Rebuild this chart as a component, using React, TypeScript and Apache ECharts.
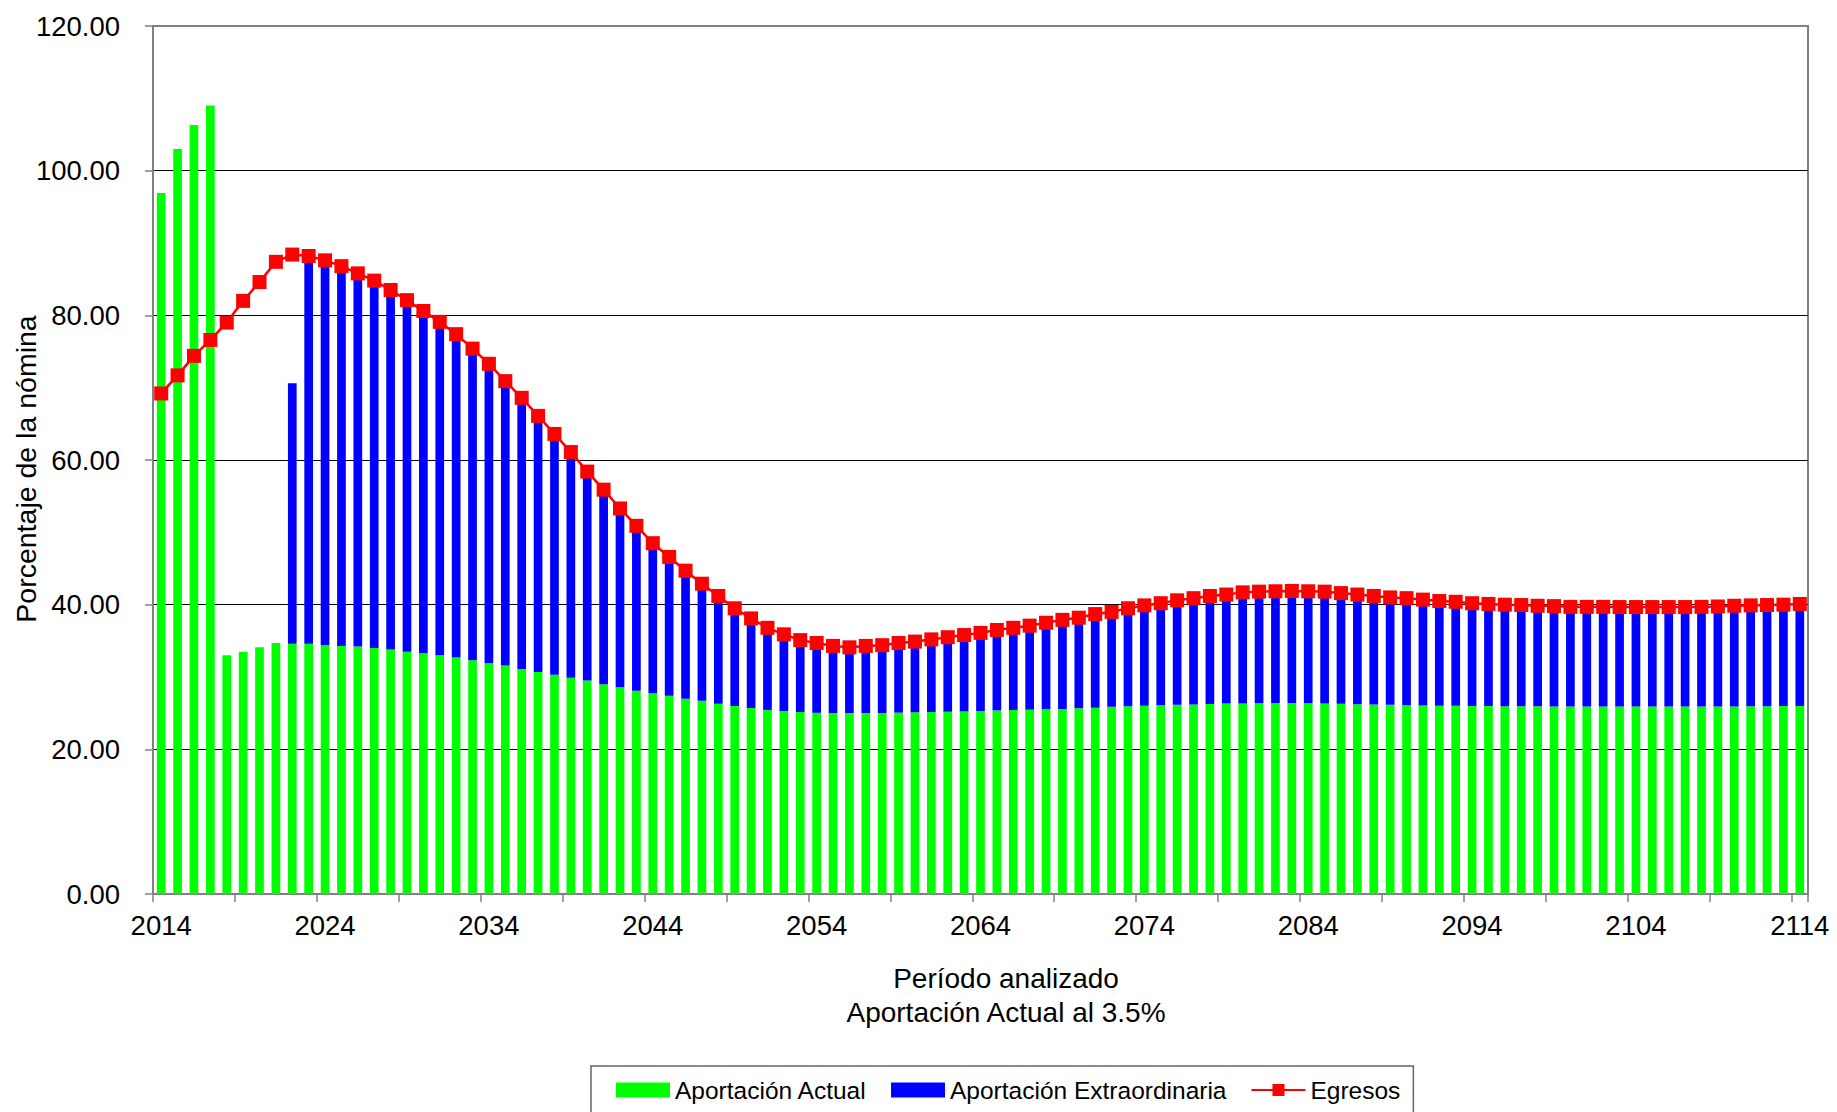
import React, { useEffect, useRef } from "react";
import * as echarts from "echarts";

const years: string[] = [];
for (let y = 2014; y <= 2114; y++) years.push(String(y));

const aportacionActual: number[] = [
  96.9, 103.0, 106.3, 109.0, 33.0, 33.5, 34.1, 34.7, 34.6, 34.6,
  34.4, 34.3, 34.2, 34.0, 33.8, 33.5, 33.3, 33.0, 32.7, 32.3,
  31.9, 31.6, 31.1, 30.7, 30.3, 29.9, 29.5, 29.0, 28.6, 28.1,
  27.75, 27.4, 27.0, 26.7, 26.3, 26.0, 25.7, 25.45, 25.3, 25.15,
  25.05, 25.0, 25.0, 25.0, 25.02, 25.07, 25.12, 25.16, 25.2, 25.25,
  25.3, 25.38, 25.44, 25.48, 25.53, 25.58, 25.67, 25.76, 25.88, 25.97,
  26.02, 26.1, 26.15, 26.2, 26.28, 26.33, 26.35, 26.38, 26.4, 26.4,
  26.38, 26.35, 26.3, 26.25, 26.2, 26.15, 26.1, 26.06, 26.04, 26.02,
  26.0, 26.0, 25.97, 25.96, 25.95, 25.93, 25.93, 25.93, 25.93, 25.93,
  25.93, 25.93, 25.93, 25.93, 25.93, 25.93, 25.93, 25.95, 25.97, 26.0,
  26.0,
];

const aportacionExtraordinaria: (number | null)[] = [
  null, null, null, null, null, null, null, null, 36.0, 53.6,
  53.2, 52.5, 51.6, 50.8, 49.7, 48.6, 47.3, 46.1, 44.7, 43.1,
  41.4, 39.3, 37.5, 35.4, 33.3, 31.2, 28.9, 26.9, 24.7, 22.8,
  20.75, 19.2, 17.7, 16.2, 14.9, 13.5, 12.4, 11.35, 10.6, 9.95,
  9.65, 9.3, 9.1, 9.3, 9.38, 9.63, 9.78, 10.04, 10.3, 10.55,
  10.8, 11.12, 11.36, 11.62, 11.97, 12.32, 12.53, 12.94, 13.12, 13.53,
  13.88, 14.1, 14.45, 14.7, 14.92, 15.07, 15.35, 15.42, 15.45, 15.5,
  15.47, 15.45, 15.3, 15.15, 15.0, 14.85, 14.8, 14.64, 14.46, 14.38,
  14.2, 14.1, 14.03, 13.99, 13.9, 13.87, 13.77, 13.77, 13.77, 13.74,
  13.74, 13.74, 13.74, 13.74, 13.77, 13.82, 13.92, 13.95, 13.98, 14.0,
  14.1,
];

const egresos: number[] = [
  69.2, 71.7, 74.4, 76.6, 79.0, 82.0, 84.6, 87.4, 88.4, 88.2,
  87.6, 86.8, 85.8, 84.8, 83.5, 82.1, 80.6, 79.1, 77.4, 75.4,
  73.3, 70.9, 68.6, 66.1, 63.6, 61.1, 58.4, 55.9, 53.3, 50.9,
  48.5, 46.6, 44.7, 42.9, 41.2, 39.5, 38.1, 36.8, 35.9, 35.1,
  34.7, 34.3, 34.1, 34.3, 34.4, 34.7, 34.9, 35.2, 35.5, 35.8,
  36.1, 36.5, 36.8, 37.1, 37.5, 37.9, 38.2, 38.7, 39.0, 39.5,
  39.9, 40.2, 40.6, 40.9, 41.2, 41.4, 41.7, 41.8, 41.85, 41.9,
  41.85, 41.8, 41.6, 41.4, 41.2, 41.0, 40.9, 40.7, 40.5, 40.4,
  40.2, 40.1, 40.0, 39.95, 39.85, 39.8, 39.7, 39.7, 39.7, 39.67,
  39.67, 39.67, 39.67, 39.67, 39.7, 39.75, 39.85, 39.9, 39.95, 40.0,
  40.1,
];

const seriesNames = ["Aportación Actual", "Aportación Extraordinaria", "Egresos"];
const yAxisTitle = "Porcentaje de la nómina";
const xAxisTitle = "Período analizado\nAportación Actual al 3.5%";

const FONT = "'Liberation Sans', Arial, sans-serif";

export default function App() {
  const ref = useRef<HTMLDivElement>(null);
  useEffect(() => {
    if (!ref.current) return;
    const chart = echarts.init(ref.current, null, { renderer: "svg" });
    chart.setOption({
      animation: false,
      backgroundColor: "#ffffff",
      grid: {
        left: 153,
        right: 29,
        top: 26,
        bottom: 218,
        show: true,
        borderColor: "#808080",
        borderWidth: 2,
        backgroundColor: "transparent",
      },
      legend: {
        data: [
          { name: seriesNames[0], icon: "rect" },
          { name: seriesNames[1], icon: "rect" },
          { name: seriesNames[2] },
        ],
        left: 591,
        top: 1066,
        padding: [11, 13, 30, 25],
        borderColor: "#666666",
        borderWidth: 1.5,
        itemWidth: 54,
        itemHeight: 15,
        itemGap: 24,
        textStyle: { fontFamily: FONT, fontSize: 24.5, color: "#000", lineHeight: 26 },
      },
      xAxis: {
        type: "category",
        data: years,
        boundaryGap: true,
        axisLine: { show: true, lineStyle: { color: "#808080", width: 2 } },
        axisTick: { show: true, interval: 4, length: 8, lineStyle: { color: "#808080", width: 1.5 } },
        axisLabel: {
          interval: 9,
          margin: 18,
          fontFamily: FONT,
          fontSize: 27.5,
          lineHeight: 27,
          color: "#000",
        },
        splitLine: { show: false },
      },
      yAxis: {
        type: "value",
        min: 0,
        max: 120,
        interval: 20,
        axisLine: { show: true, lineStyle: { color: "#808080", width: 2 } },
        axisTick: { show: true, length: 8, lineStyle: { color: "#808080", width: 1.5 } },
        axisLabel: {
          margin: 33,
          fontFamily: FONT,
          fontSize: 27.5,
          color: "#000",
          formatter: (v: number) => v.toFixed(2),
        },
        splitLine: {
          show: true,
          showMinLine: false,
          showMaxLine: false,
          lineStyle: { color: "#000", width: 1 },
        },
      },
      graphic: [
        {
          type: "text",
          x: 26,
          y: 469,
          rotation: Math.PI / 2,
          style: {
            text: yAxisTitle,
            fontFamily: FONT,
            fontSize: 28.5,
            fill: "#000",
            textAlign: "center",
            textVerticalAlign: "middle",
          },
        },
        {
          type: "text",
          x: 1006,
          y: 995,
          style: {
            text: xAxisTitle,
            fontFamily: FONT,
            fontSize: 28,
            lineHeight: 34,
            fill: "#000",
            textAlign: "center",
            textVerticalAlign: "middle",
          },
        },
      ],
      series: [
        {
          name: seriesNames[0],
          type: "bar",
          stack: "total",
          data: aportacionActual,
          barWidth: 8.7,
          itemStyle: { color: "#00ff00" },
          z: 2,
        },
        {
          name: seriesNames[1],
          type: "bar",
          stack: "total",
          data: aportacionExtraordinaria,
          barWidth: 8.7,
          itemStyle: { color: "#0000ff" },
          z: 2,
        },
        {
          name: seriesNames[2],
          type: "line",
          data: egresos,
          symbol: "rect",
          symbolSize: 14,
          showAllSymbol: true,
          lineStyle: { color: "#ff0000", width: 2.5 },
          itemStyle: { color: "#ff0000" },
          z: 5,
        },
      ],
    });
    return () => chart.dispose();
  }, []);
  return (
    <div
      ref={ref}
      style={{ position: "absolute", left: 0, top: 0, width: 1837, height: 1112 }}
    />
  );
}
